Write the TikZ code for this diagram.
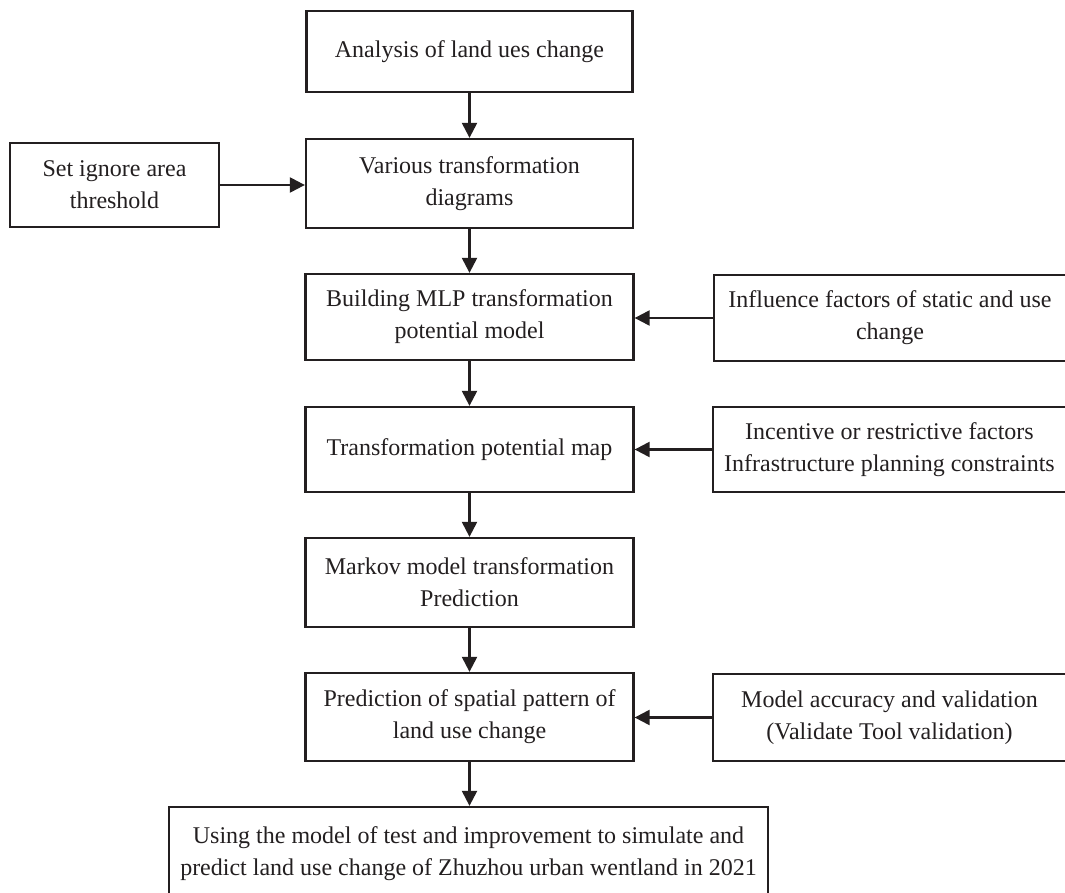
\documentclass[tikz,border=0pt]{standalone}
\usepackage{fontspec}
\setmainfont{Liberation Serif}
\usetikzlibrary{arrows.meta}
\definecolor{ink}{RGB}{35,31,32}

\begin{document}
\begin{tikzpicture}[x=1pt, y=-1pt,
  every node/.style={font=\fontsize{24}{32}\selectfont, text=ink},
  box/.style={draw=ink, line width=2.3pt, align=center, inner sep=0pt},
  arr/.style={draw=ink, line width=2.3pt, -{Triangle[length=15pt, width=15pt]}}]
\useasboundingbox (0,0) rectangle (1065,893);

% middle column
\node [box, minimum width=326pt, minimum height=81pt] (ana) at (469.5, 51.5) {Analysis of land ues change};
\node [box, minimum width=327pt, minimum height=89pt] (var) at (469.5, 183.5) {Various transformation\\diagrams};
\node [box, minimum width=328pt, minimum height=86pt] (mlp) at (469.5, 317) {Building MLP transformation\\potential model};
\node [box, minimum width=328pt, minimum height=85pt] (pot) at (469.5, 449.5) {Transformation potential map};
\node [box, minimum width=328pt, minimum height=89pt] (mar) at (469.5, 582.5) {Markov model transformation\\Prediction};
\node [box, minimum width=328pt, minimum height=88pt] (pre) at (469.5, 717) {Prediction of spatial pattern of\\land use change};
\node [box, minimum width=599pt, minimum height=93pt] (sim) at (468.5, 853.5) {Using the model of test and improvement to simulate and\\predict land use change of Zhuzhou urban wentland in 2021};

% side boxes
\node [box, minimum width=209pt, minimum height=84pt] (ign) at (114.5, 185) {Set ignore area\\threshold};
\node [box, minimum width=352pt, minimum height=86pt] (inf) at (890, 318) {Influence factors of static and use\\change};
\node [box, minimum width=353pt, minimum height=85pt] (inc) at (889.5, 449.5) {Incentive or restrictive factors\\Infrastructure planning constraints};
\node [box, minimum width=353pt, minimum height=87pt] (val) at (889.5, 717.5) {Model accuracy and validation\\(Validate Tool validation)};

% connectors
\draw [arr] (ana) -- (var);
\draw [arr] (var) -- (mlp);
\draw [arr] (mlp) -- (pot);
\draw [arr] (pot) -- (mar);
\draw [arr] (mar) -- (pre);
\draw [arr] (pre.south) -- (pre.south |- sim.north);
\draw [arr] (ign.east) -- (ign.east -| var.west);
\draw [arr] (inf.west) -- (inf.west -| mlp.east);
\draw [arr] (inc.west) -- (inc.west -| pot.east);
\draw [arr] (val.west) -- (val.west -| pre.east);
\end{tikzpicture}
\end{document}
